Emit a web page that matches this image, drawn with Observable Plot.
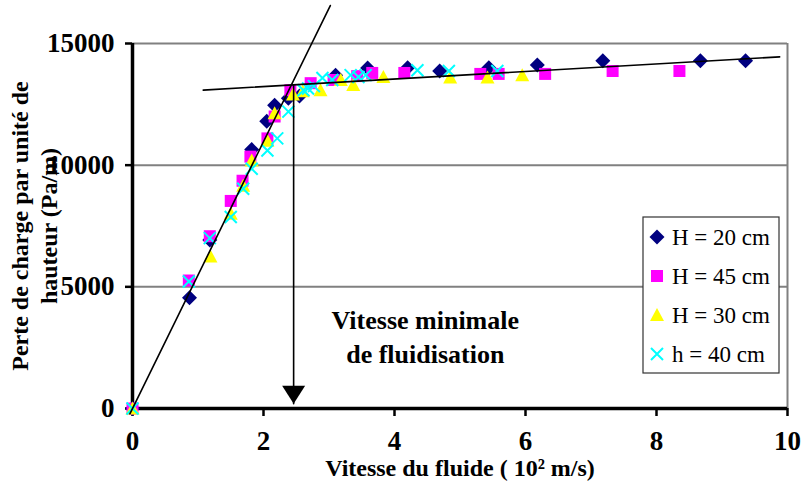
<!DOCTYPE html>
<html><head><meta charset="utf-8">
<script src="https://cdn.jsdelivr.net/npm/d3@7"></script>
<script src="https://cdn.jsdelivr.net/npm/@observablehq/plot@0.6"></script>
<style>
body{margin:0;background:#fff;}
#chart{width:803px;height:484px;}
#chart svg text{font-family:"Liberation Serif", serif !important;}
</style></head><body><div id="chart"></div>
<script>
// ---- data ----
const seriesNames = ["H = 20 cm", "H = 45 cm", "H = 30 cm", "h = 40 cm"];
const seriesColors = ["#000080", "#FF00FF", "#FFFF00", "#00FFFF"];

const h20X = [0, 0.87, 1.18, 1.82, 2.05, 2.17, 2.38, 2.55, 3.10, 3.59, 4.20, 4.69, 5.44, 6.18, 7.18, 8.67, 9.36];
const h20Y = [0, 4550, 6920, 10640, 11800, 12460, 12750, 12840, 13700, 13990, 14000, 13870, 14000, 14120, 14290, 14290, 14290];

const h45X = [0, 0.86, 1.18, 1.50, 1.68, 1.80, 2.06, 2.17, 2.41, 2.72, 3.07, 3.43, 3.66, 4.15, 5.31, 5.59, 6.30, 7.33, 8.35];
const h45Y = [0, 5260, 7080, 8530, 9360, 10350, 11100, 12000, 13080, 13370, 13500, 13660, 13790, 13790, 13750, 13750, 13750, 13870, 13870];

const h30X = [0, 1.19, 1.50, 1.69, 1.82, 2.06, 2.17, 2.45, 2.60, 2.87, 3.18, 3.37, 3.83, 4.85, 5.42, 5.95];
const h30Y = [0, 6250, 8000, 9150, 10190, 11000, 12130, 12900, 13040, 13080, 13500, 13290, 13620, 13600, 13600, 13700];

const h40X = [0, 0.86, 1.18, 1.50, 1.69, 1.82, 2.06, 2.21, 2.38, 2.61, 2.68, 2.77, 2.90, 3.05, 3.33, 3.45, 3.56, 4.35, 4.83, 5.57];
const h40Y = [0, 5220, 7000, 7870, 9030, 9850, 10600, 11100, 12200, 13080, 13150, 13250, 13580, 13500, 13700, 13620, 13700, 13900, 13870, 13870];

const seriesX = [h20X, h45X, h30X, h40X];
const seriesY = [h20Y, h45Y, h30Y, h40Y];

// fitted lines
const steepLineX = [-0.04, 3.02];
const steepLineY = [-220, 16560];
const flatLineX = [1.08, 9.88];
const flatLineY = [13085, 14450];

// arrow (minimum fluidisation velocity)
const arrowX = [2.46, 2.46];
const arrowY = [13300, 200];

const annotLabels = ["Vitesse minimale", "de fluidisation"];
const annotX = [4.47, 4.47];
const annotY = [3600, 2230];

const xTicks = [0, 2, 4, 6, 8, 10];
const yTicks = [0, 5000, 10000, 15000];
const gridY = [5000, 10000, 15000];
const xTitle = "Vitesse du fluide ( 10² m/s)";
const yTitle = "Perte de charge par unité de\nhauteur (Pa/m)";

// ---- symbols ----
const symDiamond = {draw(c){c.moveTo(0,-7.5);c.lineTo(7.5,0);c.lineTo(0,7.5);c.lineTo(-7.5,0);c.closePath();}};
const symSquare = {draw(c){c.moveTo(-6,-6);c.lineTo(6,-6);c.lineTo(6,6);c.lineTo(-6,6);c.closePath();}};
const symTriangle = {draw(c){c.moveTo(0,-7);c.lineTo(7,6);c.lineTo(-7,6);c.closePath();}};
const symCross = {draw(c){c.moveTo(-6,-6);c.lineTo(6,6);c.moveTo(-6,6);c.lineTo(6,-6);}};
const symArrowHead = {draw(c){c.moveTo(-11.5,-18);c.lineTo(11.5,-18);c.lineTo(0,0);c.closePath();}};
const seriesSymbols = [symDiamond, symSquare, symTriangle, symCross];

const FONT = "Liberation Serif";

const dotMarks = seriesNames.map((name, i) => {
  const rows = seriesX[i].map((x, j) => ({x, y: seriesY[i][j]}));
  const isCross = i === 3;
  return Plot.dot(rows, {
    x: "x", y: "y", symbol: seriesSymbols[i], r: 5,
    fill: isCross ? "none" : seriesColors[i],
    stroke: isCross ? seriesColors[i] : "none",
    strokeWidth: isCross ? 2 : 0
  });
});

const toRows = (xs, ys) => xs.map((x, j) => ({x, y: ys[j]}));

const chart = Plot.plot({
  width: 803, height: 484,
  marginLeft: 132, marginRight: 16, marginTop: 43, marginBottom: 76,
  x: {domain: [0, 10]},
  y: {domain: [0, 15000]},
  style: {fontFamily: FONT, background: "white", overflow: "visible"},
  marks: [
    Plot.ruleY(gridY, {stroke: "#808080", strokeWidth: 2}),
    Plot.ruleX([10], {stroke: "#808080", strokeWidth: 2}),
    Plot.ruleY([0], {stroke: "black", strokeWidth: 3.5}),
    Plot.ruleX([0], {stroke: "black", strokeWidth: 3.5}),
    Plot.axisY({ticks: yTicks, tickSize: 7, tickFormat: () => "", label: null, strokeWidth: 2.5, stroke: "black"}),
    Plot.axisX({ticks: xTicks, tickSize: 8, tickFormat: () => "", label: null, strokeWidth: 2.5, stroke: "black"}),
    Plot.text(yTicks, {y: d => d, text: d => String(d), frameAnchor: "left", dx: -18, textAnchor: "end", lineAnchor: "middle", fontSize: 27, fontWeight: "bold", fill: "black"}),
    Plot.text(xTicks, {x: d => d, text: d => String(d), frameAnchor: "bottom", dy: 33, textAnchor: "middle", lineAnchor: "middle", fontSize: 27, fontWeight: "bold", fill: "black"}),
    ...dotMarks,
    Plot.line(toRows(steepLineX, steepLineY), {x: "x", y: "y", stroke: "black", strokeWidth: 1.6}),
    Plot.line(toRows(flatLineX, flatLineY), {x: "x", y: "y", stroke: "black", strokeWidth: 1.6}),
    Plot.line(toRows(arrowX, arrowY), {x: "x", y: "y", stroke: "black", strokeWidth: 1.6}),
    Plot.dot([{x: arrowX[1], y: arrowY[1]}], {x: "x", y: "y", symbol: symArrowHead, fill: "black", stroke: "none"}),
    Plot.text(annotLabels.map((t, j) => ({t, x: annotX[j], y: annotY[j]})), {x: "x", y: "y", text: "t", fontSize: 26, fontWeight: "bold", fill: "black"}),
    Plot.text([xTitle], {frameAnchor: "bottom", dy: 60, lineAnchor: "middle", textAnchor: "middle", fontSize: 24, fontWeight: "bold", fill: "black"}),
    Plot.text([yTitle], {frameAnchor: "left", dx: -99, rotate: -90, textAnchor: "middle", lineAnchor: "middle", lineHeight: 1.2, fontSize: 24, fontWeight: "bold", fill: "black"})
  ]
});
document.getElementById("chart").appendChild(chart);

// ---- legend (inside plot area) ----
const svg = d3.select(chart);
const lg = svg.append("g").attr("transform", "translate(643,217)");
lg.append("rect").attr("x", 0).attr("y", 0).attr("width", 136).attr("height", 156)
  .attr("fill", "white").attr("stroke", "#333").attr("stroke-width", 1.2);
seriesNames.forEach((name, i) => {
  const cy = 20 + i * 39;
  const isCross = i === 3;
  lg.append("path").attr("d", d3.symbol(seriesSymbols[i])())
    .attr("transform", `translate(14,${cy})`)
    .attr("fill", isCross ? "none" : seriesColors[i])
    .attr("stroke", isCross ? seriesColors[i] : "none")
    .attr("stroke-width", isCross ? 2 : 0);
  lg.append("text").attr("x", 29).attr("y", cy).attr("dy", "0.35em")
    .attr("text-anchor", "start")
    .attr("font-size", 23).attr("fill", "black")
    .text(name);
});
</script>
</body></html>
